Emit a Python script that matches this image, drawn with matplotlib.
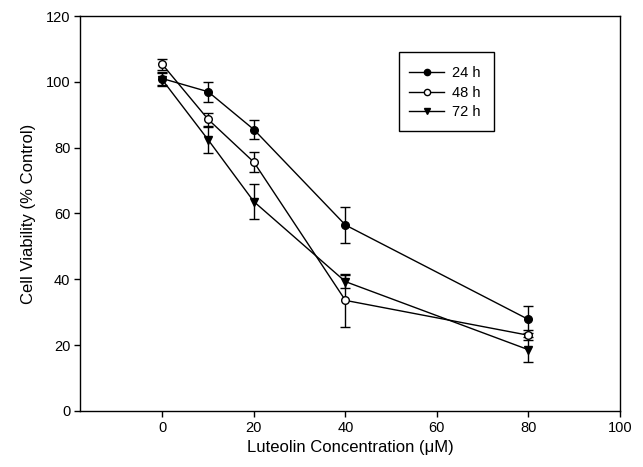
"""Luteolin cell viability dose-response figure."""

import matplotlib

matplotlib.use("Agg")
import matplotlib.pyplot as plt
from matplotlib.lines import Line2D
from matplotlib.patches import Rectangle

plt.rcParams["font.family"] = ["Liberation Sans", "DejaVu Sans"]

# Luteolin concentration (uM)
conc = [0, 10, 20, 40, 80]

# Cell viability (% control), mean and error per time point
via_24h = [101.0, 97.0, 85.5, 56.5, 27.8]
err_24h = [2.0, 3.0, 2.9, 5.6, 4.2]
via_48h = [105.3, 88.6, 75.6, 33.6, 23.0]
err_48h = [1.7, 2.0, 3.0, 8.0, 1.5]
via_72h = [100.6, 82.4, 63.6, 39.3, 18.6]
err_72h = [2.0, 3.9, 5.4, 2.0, 3.8]

labels = ["24 h", "48 h", "72 h"]

fig = plt.figure(figsize=(6.43, 4.67), dpi=100)
ax = fig.add_axes([0.1244, 0.12, 0.8398, 0.8457])

styles = [
    (via_24h, err_24h, "o", "black"),
    (via_48h, err_48h, "o", "white"),
    (via_72h, err_72h, "v", "black"),
]
handles = []
for (vals, errs, mk, face), lab in zip(styles, labels):
    ax.errorbar(conc, vals, yerr=errs, color="black", linewidth=1.0,
                elinewidth=1.0, capsize=3.8, capthick=1.0,
                marker=mk, markersize=5.5, markerfacecolor=face,
                markeredgecolor="black", markeredgewidth=1.0)
    handles.append(Line2D([], [], color="black", linewidth=1.0, marker=mk,
                          markersize=4.5, markerfacecolor=face,
                          markeredgecolor="black", markeredgewidth=1.0,
                          label=lab))

ax.set_xlim(-18, 100)
ax.set_ylim(0, 120)
ax.set_xticks([0, 20, 40, 60, 80, 100])
ax.set_yticks([0, 20, 40, 60, 80, 100, 120])
ax.tick_params(direction="out", length=4, width=1, labelsize=10.5, pad=3)
for sp in ax.spines.values():
    sp.set_linewidth(1.0)

ax.set_xlabel("Luteolin Concentration (\u03bcM)", fontsize=12, labelpad=4)
ax.set_ylabel("Cell Viability (% Control)", fontsize=12, labelpad=7)

# legend box with some empty space under the entries, like the original
ax.add_patch(Rectangle((0.591, 0.710), 0.176, 0.198, transform=ax.transAxes,
                       fill=False, edgecolor="black", linewidth=1.0, zorder=5))
ax.legend(handles=handles, loc="upper left", bbox_to_anchor=(0.61, 0.874),
          frameon=False, fontsize=10.5, handlelength=2.4, handletextpad=0.5,
          labelspacing=0.4, borderaxespad=0, borderpad=0)

fig.savefig("out.png", dpi=100)
